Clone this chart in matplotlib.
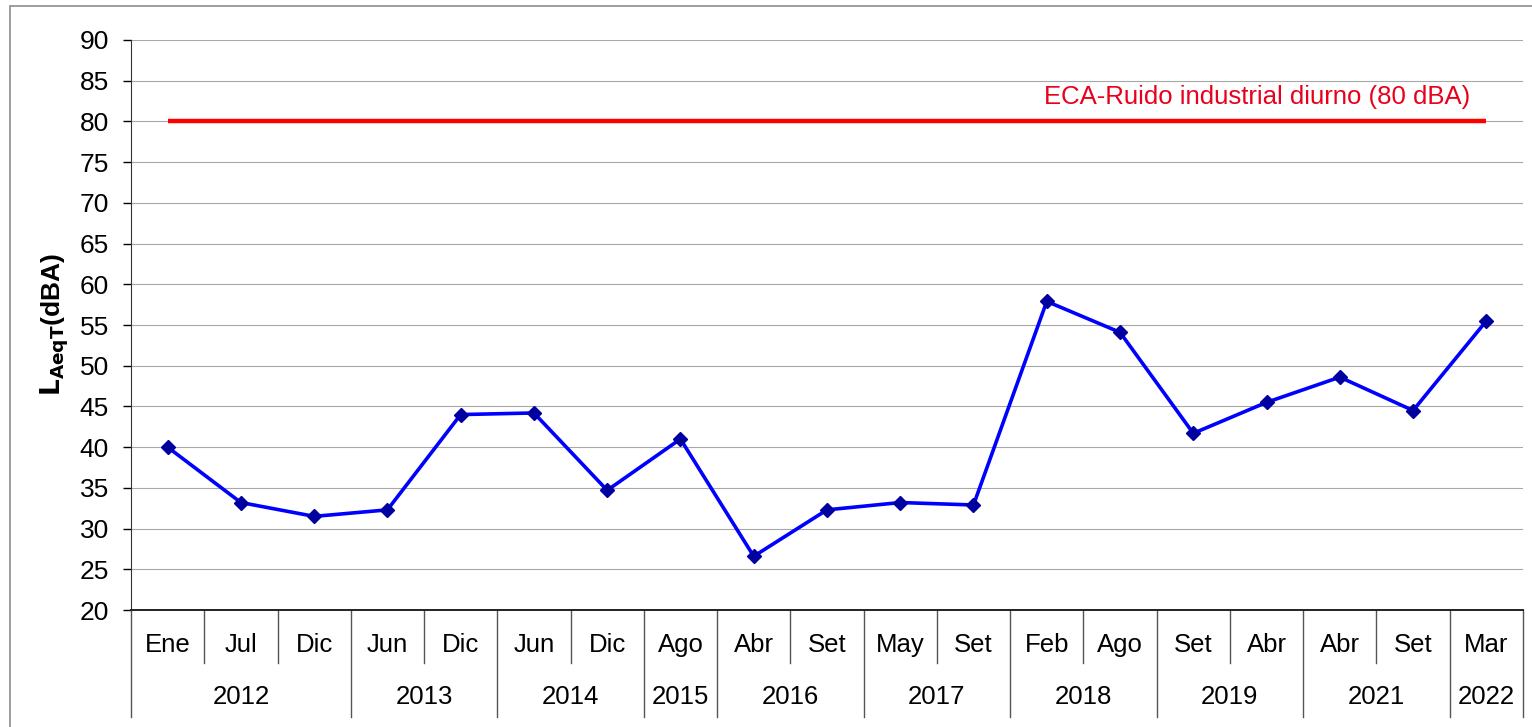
import matplotlib.pyplot as plt
from matplotlib.patches import Rectangle

plt.rcParams['font.family'] = ['Liberation Sans', 'DejaVu Sans']

# months (first level) and years (second level)
meses = ['Ene', 'Jul', 'Dic', 'Jun', 'Dic', 'Jun', 'Dic', 'Ago', 'Abr', 'Set',
         'May', 'Set', 'Feb', 'Ago', 'Set', 'Abr', 'Abr', 'Set', 'Mar']
anios = ['2012', '2013', '2014', '2015', '2016', '2017', '2018', '2019', '2021', '2022']
meses_por_anio = [3, 2, 2, 1, 2, 2, 2, 2, 2, 1]

laeqt = [40.0, 33.2, 31.5, 32.3, 44.0, 44.2, 34.7, 41.0, 26.6, 32.3,
         33.2, 32.9, 57.9, 54.1, 41.7, 45.5, 48.6, 44.5, 55.5]
eca = [80] * len(meses)
eca_label = 'ECA-Ruido industrial diurno (80 dBA)'

fig = plt.figure(figsize=(15.32, 7.27), dpi=100)
ax = fig.add_axes([0.0855, 0.1609, 0.9086, 0.7841])

x = list(range(len(meses)))
ax.plot(x, eca, color='#ff0000', lw=3.2, zorder=3, solid_capstyle='butt')
ax.plot(x, laeqt, color='#0000ff', lw=2.6, marker='D', markersize=7.5,
        markerfacecolor='#0000a0', markeredgecolor='#0000a0', zorder=4)
ax.text(17.78, 83.0, eca_label, color='#e8001c', fontsize=18.5, ha='right', va='center')

ax.set_xlim(-0.5, len(meses) - 0.5)
ax.set_ylim(20, 90)
ax.set_yticks(range(20, 91, 5))
ax.yaxis.grid(True, color='#a8a8a8', lw=0.8)
ax.set_axisbelow(True)
ax.tick_params(axis='y', labelsize=19, length=6, width=1, pad=10, direction='out')
ax.set_xticks([])
for s in ['top', 'right']:
    ax.spines[s].set_visible(False)
ax.spines['left'].set_color('#333333')
ax.spines['bottom'].set_color('#222222')
ax.spines['bottom'].set_linewidth(1.4)

ax.set_ylabel(r'$\mathbf{L_{AeqT}}$(dBA)', fontsize=19, fontweight='bold', labelpad=6)

# two level category axis
trans = ax.get_xaxis_transform()
for i, m in enumerate(meses):
    ax.text(i, -0.061, m, transform=trans, ha='center', va='center', fontsize=18.5)

bordes = [0]
for n in meses_por_anio:
    bordes.append(bordes[-1] + n)
for i in range(len(meses) + 1):
    y0 = -0.188 if i in bordes else -0.093
    ax.plot([i - 0.5, i - 0.5], [0, y0], transform=trans, color='#555555',
            lw=1.0, clip_on=False)
for k, a in enumerate(anios):
    c = (bordes[k] + bordes[k + 1] - 1) / 2
    ax.text(c, -0.153, a, transform=trans, ha='center', va='center', fontsize=18.5)

fig.patches.append(Rectangle((0.0065, -0.01), 1.0, 1.0017, transform=fig.transFigure,
                             fill=False, edgecolor='#8c8c8c', lw=1.2))

fig.savefig('out.png', dpi=100)
